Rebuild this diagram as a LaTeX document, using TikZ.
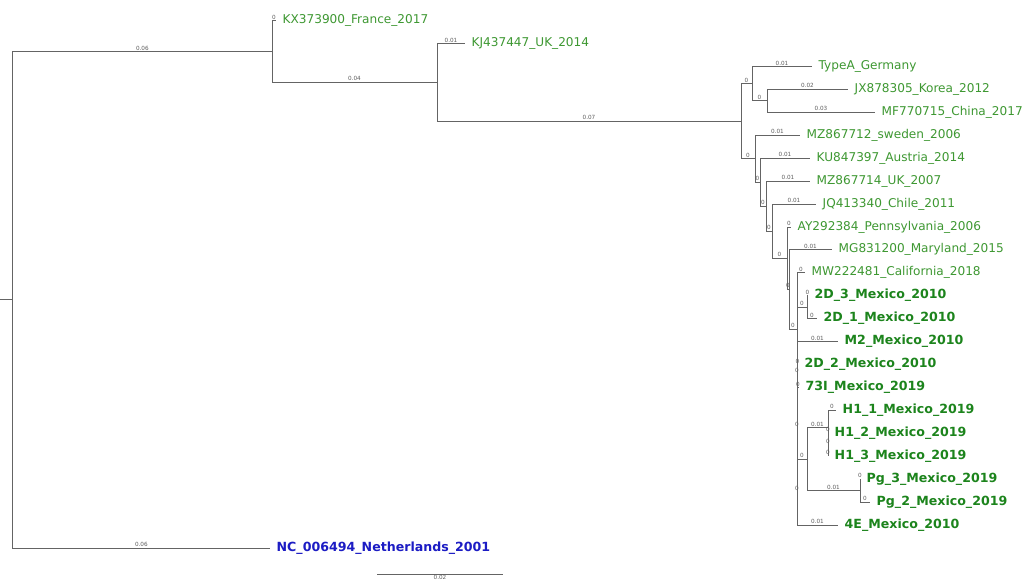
\documentclass[tikz,border=0pt]{standalone}
\usepackage{fontspec}
\setmainfont{DejaVu Sans}
\definecolor{branchgray}{RGB}{100,100,100}
\definecolor{lengthgray}{RGB}{95,95,95}
\definecolor{taxongreen}{RGB}{62,152,50}
\definecolor{mexgreen}{RGB}{28,132,28}
\definecolor{rootblue}{RGB}{28,28,196}

\begin{document}
\begin{tikzpicture}[
    x=1pt, y=-1pt,
    branch/.style={draw=branchgray, line width=1pt},
    blen/.style={above, inner sep=1pt, text=lengthgray, font=\fontsize{5.7}{6}\selectfont},
    taxon/.style={anchor=west, inner xsep=6.5pt, inner ysep=0pt,
                  text height=8.8pt, text depth=2.9pt,
                  text=taxongreen, font=\fontsize{12.1}{13}\selectfont},
    mexico/.style={taxon, text=mexgreen, font=\fontsize{12.6}{13}\selectfont\bfseries},
    outgroup/.style={mexico, text=rootblue}
]
    \path[fill=white] (0,0) rectangle (1023,580);
    \useasboundingbox (0,0) rectangle (1023,580);

    \coordinate (rootStub) at (0,299.9);
    \coordinate (root) at (12.7,299.9);
    \coordinate (nTop) at (272,51.6);
    \coordinate (nB) at (437,82.5);
    \coordinate (nC) at (741,121.4);
    \coordinate (nD) at (752,83.8);
    \coordinate (nF) at (767,101.0);
    \coordinate (nE) at (755,158.9);
    \coordinate (nG) at (760,182.3);
    \coordinate (nH) at (766,206.2);
    \coordinate (nI) at (772,231.2);
    \coordinate (nK) at (787,258.3);
    \coordinate (nK2) at (789,289.5);
    \coordinate (nZ1) at (797,329.0);
    \coordinate (n2D) at (807,307.4);
    \coordinate (nZ2) at (797,385.1);
    \coordinate (nZ3) at (797,428.4);
    \coordinate (nZ4) at (797,492.2);
    \coordinate (nHP) at (807,459.2);
    \coordinate (nH1) at (828,427.7);
    \coordinate (nH23) at (828,444.9);
    \coordinate (nPg) at (860,490.8);

    \node[taxon] (france) at (276,20.7) {KX373900\_France\_2017};
    \node[taxon] (ukA) at (465,43.6) {KJ437447\_UK\_2014};
    \node[taxon] (typeA) at (812,66.6) {TypeA\_Germany};
    \node[taxon] (korea) at (848,89.5) {JX878305\_Korea\_2012};
    \node[taxon] (china) at (875,112.4) {MF770715\_China\_2017};
    \node[taxon] (sweden) at (800,135.4) {MZ867712\_sweden\_2006};
    \node[taxon] (austria) at (810,158.3) {KU847397\_Austria\_2014};
    \node[taxon] (ukB) at (810,181.2) {MZ867714\_UK\_2007};
    \node[taxon] (chile) at (816,204.1) {JQ413340\_Chile\_2011};
    \node[taxon] (penn) at (791,227.1) {AY292384\_Pennsylvania\_2006};
    \node[taxon] (maryland) at (832,250.0) {MG831200\_Maryland\_2015};
    \node[taxon] (calif) at (805,272.9) {MW222481\_California\_2018};
    \node[mexico] (dIII) at (808,295.9) {2D\_3\_Mexico\_2010};
    \node[mexico] (dI) at (817,318.8) {2D\_1\_Mexico\_2010};
    \node[mexico] (mII) at (838,341.7) {M2\_Mexico\_2010};
    \node[mexico] (dII) at (798,364.6) {2D\_2\_Mexico\_2010};
    \node[mexico] (sevenI) at (799,387.6) {73I\_Mexico\_2019};
    \node[mexico] (hI) at (836,410.5) {H1\_1\_Mexico\_2019};
    \node[mexico] (hII) at (828,433.4) {H1\_2\_Mexico\_2019};
    \node[mexico] (hIII) at (828,456.4) {H1\_3\_Mexico\_2019};
    \node[mexico] (pgIII) at (860,479.3) {Pg\_3\_Mexico\_2019};
    \node[mexico] (pgII) at (870,502.2) {Pg\_2\_Mexico\_2019};
    \node[mexico] (fourE) at (838,525.1) {4E\_Mexico\_2010};
    \node[outgroup] (neth) at (270,548.1) {NC\_006494\_Netherlands\_2001};

    \draw[branch] (rootStub) -- (root);
    \draw[branch] (root) |- (nTop) node[blen, pos=.75] {0.06};
    \draw[branch] (root) |- (neth.west) node[blen, pos=.75] {0.06};
    \draw[branch] (nTop) |- (france.west) node[blen, pos=.75] {0};
    \draw[branch] (nTop) |- (nB) node[blen, pos=.75] {0.04};
    \draw[branch] (nB) |- (ukA.west) node[blen, pos=.75] {0.01};
    \draw[branch] (nB) |- (nC) node[blen, pos=.75] {0.07};
    \draw[branch] (nC) |- (nD) node[blen, pos=.75] {0};
    \draw[branch] (nD) |- (typeA.west) node[blen, pos=.75] {0.01};
    \draw[branch] (nD) |- (nF) node[blen, pos=.75] {0};
    \draw[branch] (nF) |- (korea.west) node[blen, pos=.75] {0.02};
    \draw[branch] (nF) |- (china.west) node[blen, pos=.75] {0.03};
    \draw[branch] (nC) |- (nE) node[blen, pos=.75] {0};
    \draw[branch] (nE) |- (sweden.west) node[blen, pos=.75] {0.01};
    \draw[branch] (nE) |- (nG) node[blen, pos=.75] {0};
    \draw[branch] (nG) |- (austria.west) node[blen, pos=.75] {0.01};
    \draw[branch] (nG) |- (nH) node[blen, pos=.75] {0};
    \draw[branch] (nH) |- (ukB.west) node[blen, pos=.75] {0.01};
    \draw[branch] (nH) |- (nI) node[blen, pos=.75] {0};
    \draw[branch] (nI) |- (chile.west) node[blen, pos=.75] {0.01};
    \draw[branch] (nI) |- (nK) node[blen, pos=.75] {0};
    \draw[branch] (nK) |- (penn.west) node[blen, pos=.75] {0};
    \draw[branch] (nK) |- (nK2) node[blen, pos=.75] {0};
    \draw[branch] (nK2) |- (maryland.west) node[blen, pos=.75] {0.01};
    \draw[branch] (nK2) |- (nZ1) node[blen, pos=.75] {0};
    \draw[branch] (nZ1) |- (calif.west) node[blen, pos=.75] {0};
    \draw[branch] (nZ1) |- (n2D) node[blen, pos=.75] {0};
    \draw[branch] (n2D) |- (dIII.west) node[blen, pos=.75] {0};
    \draw[branch] (n2D) |- (dI.west) node[blen, pos=.75] {0};
    \draw[branch] (nZ1) |- (nZ2) node[blen, pos=.4] {0};
    \draw[branch] (nZ2) |- (mII.west) node[blen, pos=.75] {0.01};
    \draw[branch] (nZ2) |- (nZ3) node[blen, pos=.75] {0};
    \draw[branch] (nZ3) |- (dII.west) node[blen, pos=.75] {0};
    \draw[branch] (nZ3) |- (sevenI.west) node[blen, pos=.75] {0};
    \draw[branch] (nZ3) |- (nZ4) node[blen, pos=.75] {0};
    \draw[branch] (nZ4) |- (nHP) node[blen, pos=.75] {0};
    \draw[branch] (nHP) |- (nH1) node[blen, pos=.75] {0.01};
    \draw[branch] (nH1) |- (hI.west) node[blen, pos=.75] {0};
    \draw[branch] (nH1) |- (nH23) node[blen, pos=.75] {0};
    \draw[branch] (nH23) |- (hII.west) node[blen, pos=.75] {0};
    \draw[branch] (nH23) |- (hIII.west) node[blen, pos=.75] {0};
    \draw[branch] (nHP) |- (nPg) node[blen, pos=.75] {0.01};
    \draw[branch] (nPg) |- (pgIII.west) node[blen, pos=.75] {0};
    \draw[branch] (nPg) |- (pgII.west) node[blen, pos=.75] {0};
    \draw[branch] (nZ4) |- (fourE.west) node[blen, pos=.75] {0.01};

    \coordinate (barL) at (377,574);
    \coordinate (barR) at (503,574);
    \draw[branch] (barL) -- (barR) node[blen, midway, below] {0.02};
\end{tikzpicture}
\end{document}
